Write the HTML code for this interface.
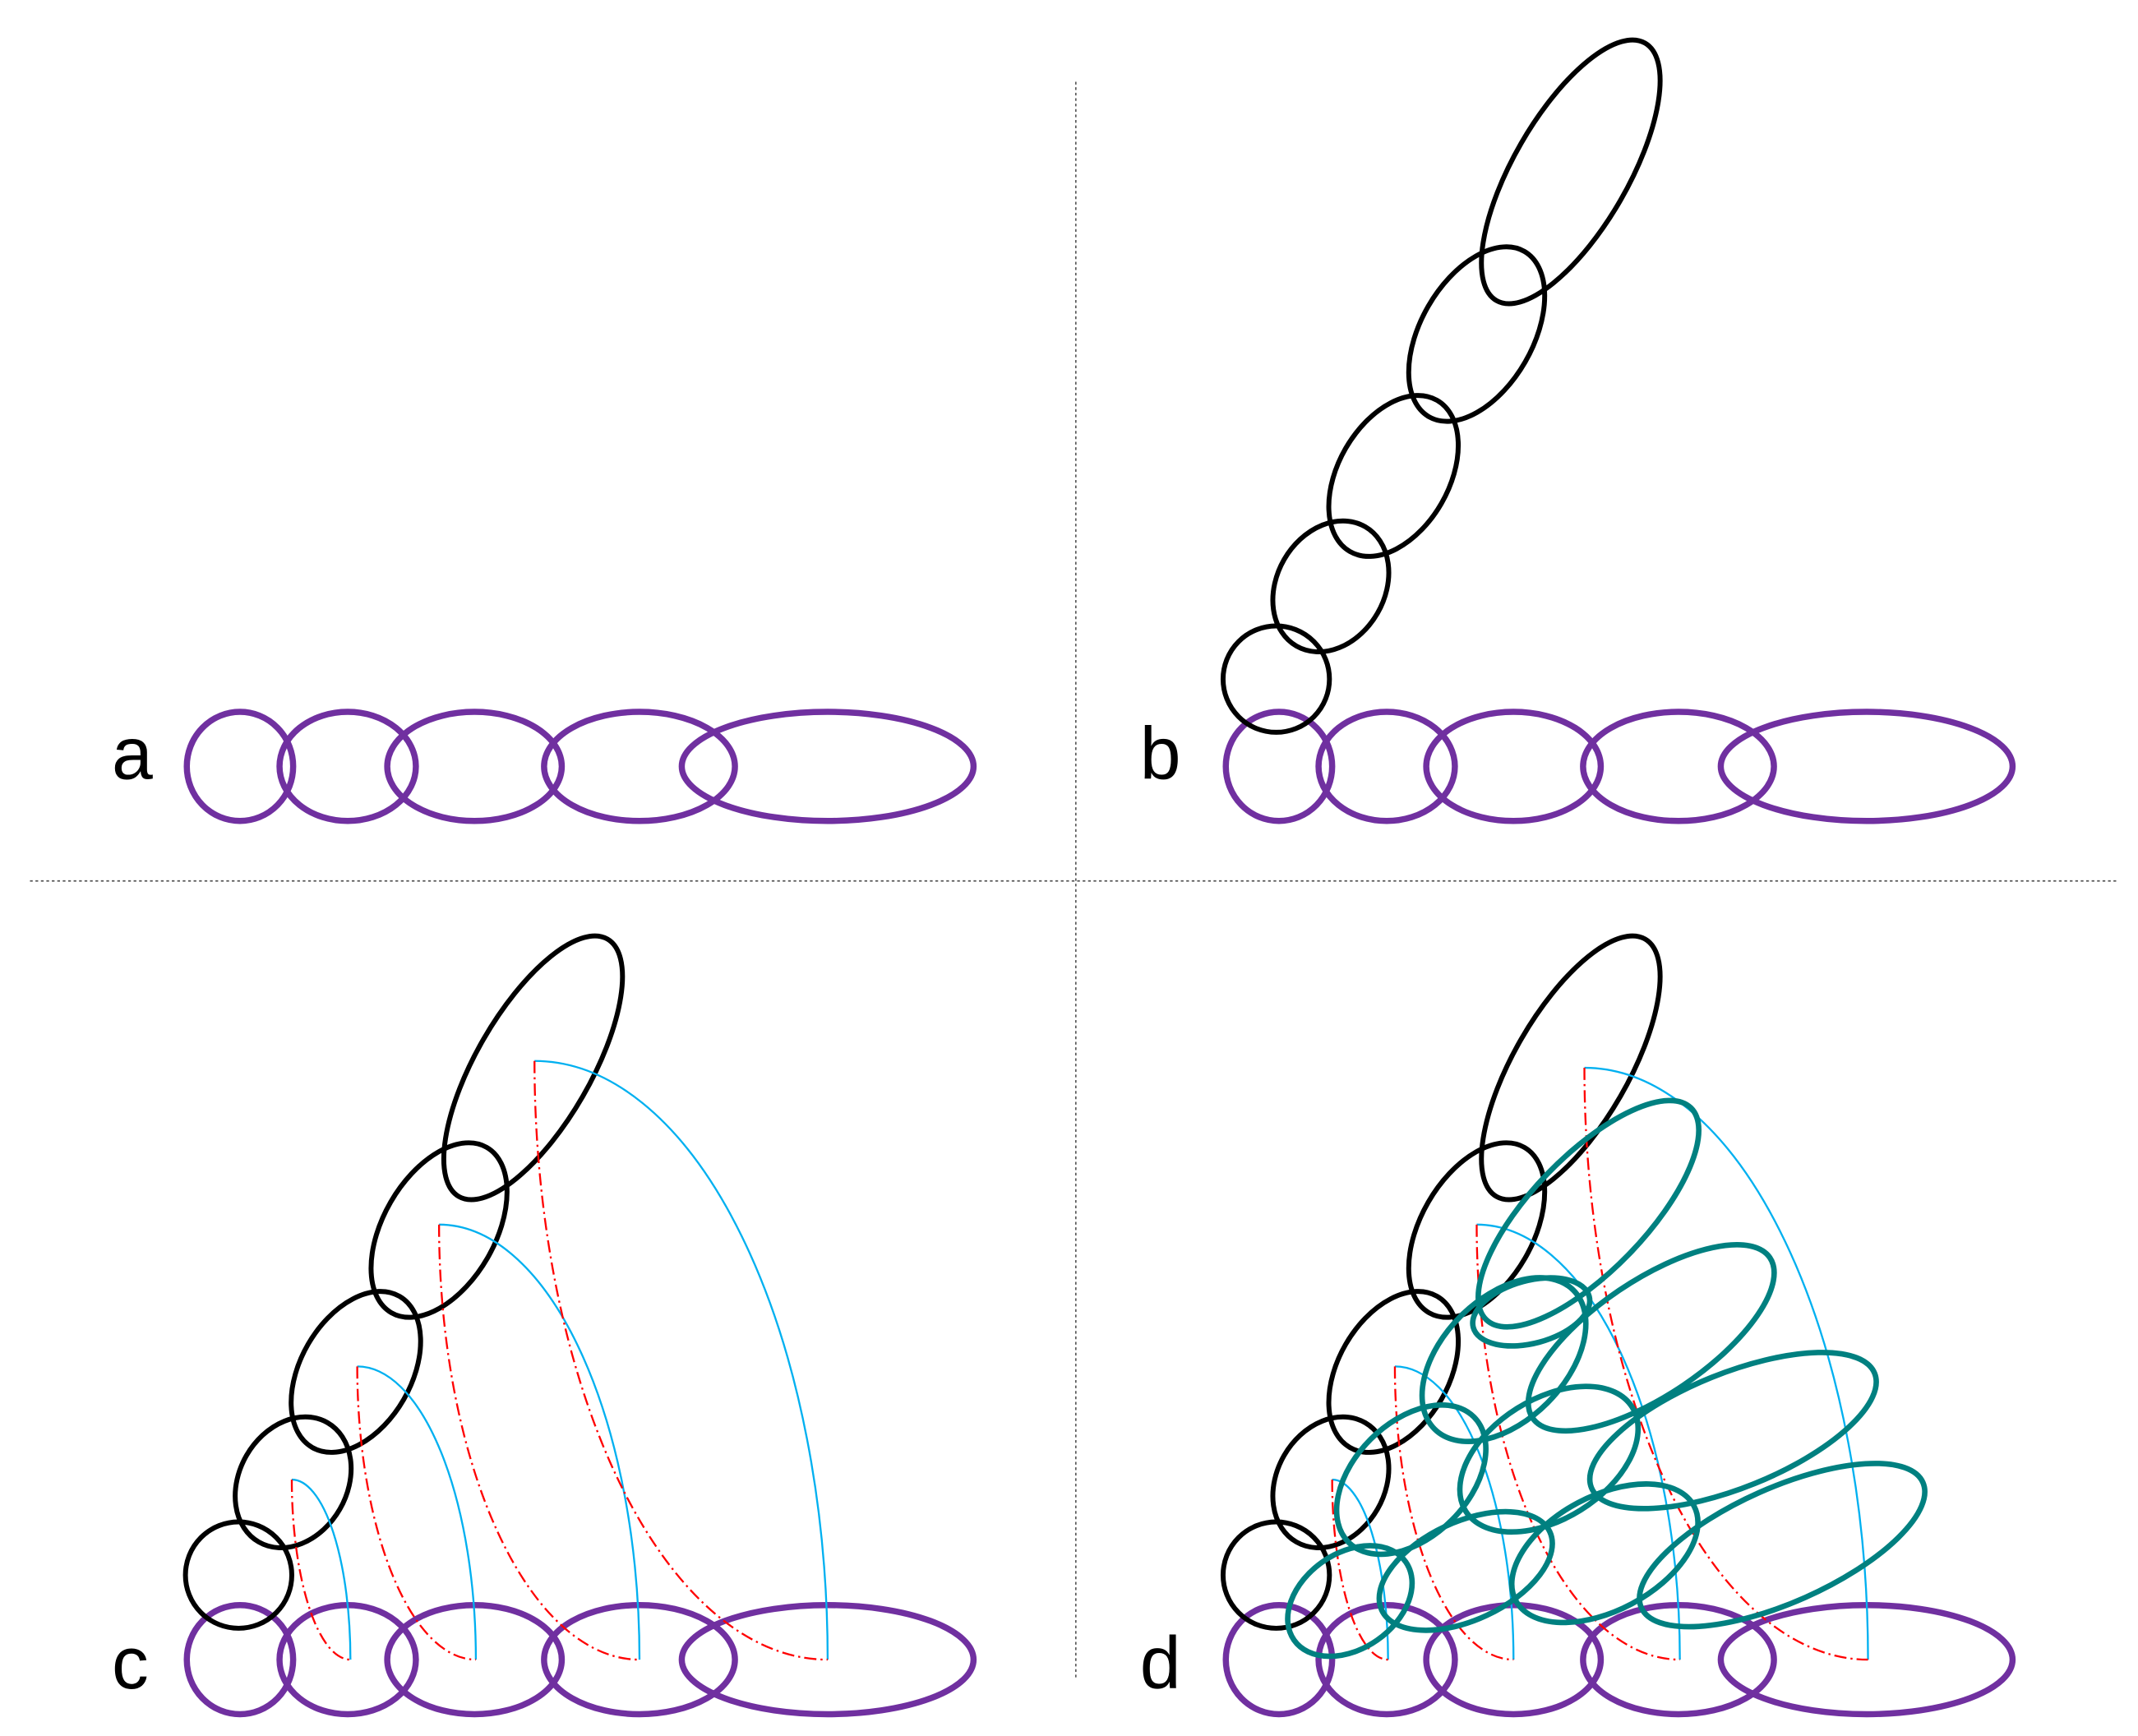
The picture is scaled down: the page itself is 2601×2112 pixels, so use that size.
<!DOCTYPE html>
<html><head><meta charset="utf-8"><style>
html,body{margin:0;padding:0;background:#fff;}
svg{display:block;}
</style></head><body>
<svg xmlns="http://www.w3.org/2000/svg" width="2601" height="2112" viewBox="0 0 1568 1273" preserveAspectRatio="none">
<rect width="1568" height="1273" fill="#fff"/>
<g stroke="#555" stroke-width="1" stroke-dasharray="2,2" fill="none">
<line x1="789" y1="60" x2="789" y2="1230"/>
<line x1="22" y1="646" x2="1552" y2="646"/>
</g>
<g font-family="Liberation Sans, sans-serif" font-size="54" fill="#000">
<text x="82" y="571">a</text>
<text x="836" y="571">b</text>
<text x="82" y="1238">c</text>
<text x="836" y="1238">d</text>
</g>
<defs>
<g id="purple" fill="none" stroke="#7030a0" stroke-width="4.5">
<ellipse cx="176" cy="0" rx="39" ry="40"/>
<ellipse cx="255" cy="0" rx="50" ry="40"/>
<ellipse cx="348" cy="0" rx="64" ry="40"/>
<ellipse cx="469" cy="0" rx="70" ry="40"/>
<ellipse cx="607" cy="0" rx="107" ry="40"/>
</g>
<g id="black" fill="none" stroke="#000" stroke-width="3.6">
<ellipse cx="936" cy="498" rx="39" ry="39"/>
<ellipse cx="0" cy="0" rx="39.5" ry="50.5" transform="translate(976 430) rotate(30)"/>
<ellipse cx="0" cy="0" rx="40.5" ry="64" transform="translate(1022 349) rotate(30)"/>
<ellipse cx="0" cy="0" rx="41" ry="70" transform="translate(1083 245) rotate(30)"/>
<ellipse cx="0" cy="0" rx="42" ry="109" transform="translate(1152 126) rotate(30)"/>
</g>
</defs>
<use href="#purple" transform="translate(0 562)"/>
<use href="#purple" transform="translate(762 562)"/>
<use href="#purple" transform="translate(0 1217)"/>
<use href="#purple" transform="translate(762 1217)"/>
<use href="#black"/>
<use href="#black" transform="translate(-761 657)"/>
<use href="#black" transform="translate(0 657)"/>
<g fill="none" stroke="#00b0f0" stroke-width="1.4">
<path d="M214 1085 A43 132 0 0 1 257 1217"/>
<path d="M262 1002 A87 215 0 0 1 349 1217"/>
<path d="M322 898 A147 319 0 0 1 469 1217"/>
<path d="M392 778 A215 439 0 0 1 607 1217"/>
<path d="M977 1085 A41 132 0 0 1 1018 1217"/>
<path d="M1023 1002 A87 215 0 0 1 1110 1217"/>
<path d="M1083 898 A149 319 0 0 1 1232 1217"/>
<path d="M1162 783 A208 434 0 0 1 1370 1217"/>
</g>
<g fill="none" stroke="#ff0000" stroke-width="1.4" stroke-dasharray="9,3,1.5,3">
<path d="M214 1085 A43 132 0 0 0 257 1217"/>
<path d="M262 1002 A87 215 0 0 0 349 1217"/>
<path d="M322 898 A147 319 0 0 0 469 1217"/>
<path d="M392 778 A215 439 0 0 0 607 1217"/>
<path d="M977 1085 A41 132 0 0 0 1018 1217"/>
<path d="M1023 1002 A87 215 0 0 0 1110 1217"/>
<path d="M1083 898 A149 319 0 0 0 1232 1217"/>
<path d="M1162 783 A208 434 0 0 0 1370 1217"/>
</g>
<g fill="none" stroke="#008080" stroke-width="4">
<ellipse cx="0" cy="0" rx="50" ry="35" transform="translate(990 1174) rotate(-35)"/>
<ellipse cx="0" cy="0" rx="68" ry="36" transform="translate(1075 1152) rotate(-25)"/>
<ellipse cx="0" cy="0" rx="74" ry="42" transform="translate(1177 1139) rotate(-28)"/>
<ellipse cx="0" cy="0" rx="113" ry="42" transform="translate(1307 1133) rotate(-24)"/>
<ellipse cx="0" cy="0" rx="65" ry="42" transform="translate(1035 1085) rotate(-45)"/>
<ellipse cx="0" cy="0" rx="72" ry="44" transform="translate(1136 1070) rotate(-32)"/>
<ellipse cx="0" cy="0" rx="112" ry="42" transform="translate(1271 1049) rotate(-22)"/>
<ellipse cx="0" cy="0" rx="72" ry="45" transform="translate(1103 997) rotate(-45)"/>
<ellipse cx="0" cy="0" rx="44" ry="23" transform="translate(1123 962) rotate(-15)"/>
<ellipse cx="0" cy="0" rx="105" ry="42" transform="translate(1211 981) rotate(-34)"/>
<ellipse cx="0" cy="0" rx="108" ry="42" transform="translate(1165 890) rotate(-46)"/>
</g>
</svg>
</body></html>
